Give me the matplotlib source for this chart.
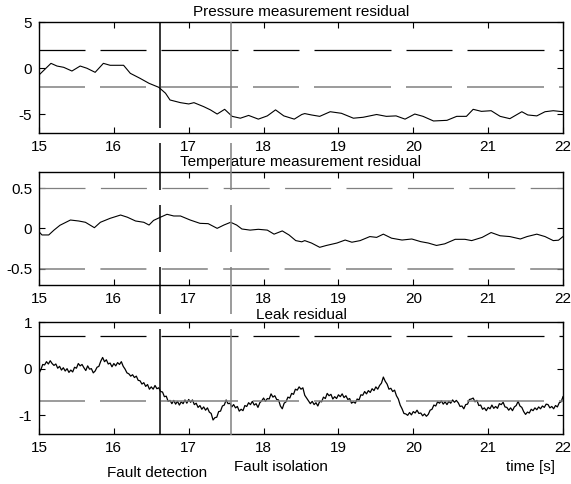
import numpy as np
import matplotlib
matplotlib.use('Agg')
import matplotlib.pyplot as plt
from matplotlib.lines import Line2D
from matplotlib.transforms import blended_transform_factory

plt.rcParams['font.family'] = ['Liberation Sans', 'DejaVu Sans']
plt.rcParams['font.size'] = 11
plt.rcParams['lines.scale_dashes'] = False

##############################################################################
# Data

# pressure measurement residual
p_t = [15.00, 15.16, 15.24, 15.33, 15.44, 15.55, 15.64, 15.75, 15.86, 15.95,
       16.13, 16.22, 16.35, 16.47, 16.60, 16.69, 16.75, 16.89, 17.00, 17.07,
       17.20, 17.29, 17.38, 17.48, 17.58, 17.69, 17.80, 17.93, 18.05, 18.16,
       18.27, 18.41, 18.51, 18.55, 18.64, 18.75, 18.89, 19.04, 19.20, 19.33,
       19.51, 19.64, 19.77, 19.89, 20.02, 20.13, 20.27, 20.45, 20.58, 20.71,
       20.80, 20.91, 21.04, 21.16, 21.29, 21.45, 21.53, 21.65, 21.76, 21.87,
       22.00]
p_v = [-0.73, 0.53, 0.24, 0.10, -0.30, 0.24, 0.00, -0.44, 0.53, 0.32,
       0.32, -0.55, -1.09, -1.63, -2.06, -2.70, -3.43, -3.72, -3.86, -3.72,
       -4.15, -4.50, -4.95, -4.44, -5.20, -5.40, -5.10, -5.50, -5.15, -4.50,
       -5.15, -5.50, -5.00, -4.90, -5.05, -5.20, -4.70, -4.87, -5.40, -5.30,
       -5.00, -5.20, -5.15, -5.50, -4.95, -5.20, -5.70, -5.63, -5.20, -5.20,
       -4.44, -4.66, -4.59, -5.20, -5.45, -4.70, -5.05, -5.15, -4.70, -4.59,
       -4.70]

# temperature measurement residual
t_t = [15.00, 15.04, 15.13, 15.20, 15.28, 15.42, 15.53, 15.62, 15.74, 15.82,
       15.95, 16.09, 16.18, 16.29, 16.40, 16.47, 16.53, 16.62, 16.71, 16.80,
       16.89, 17.02, 17.15, 17.26, 17.38, 17.47, 17.56, 17.64, 17.71, 17.82,
       17.93, 18.05, 18.14, 18.25, 18.34, 18.43, 18.51, 18.55, 18.64, 18.75,
       18.84, 18.98, 19.09, 19.18, 19.29, 19.42, 19.51, 19.60, 19.71, 19.85,
       19.98, 20.10, 20.20, 20.31, 20.42, 20.56, 20.69, 20.78, 20.92, 21.04,
       21.16, 21.29, 21.43, 21.52, 21.65, 21.76, 21.87, 21.94, 22.00]
t_v = [-0.04, -0.08, -0.08, -0.02, 0.04, 0.105, 0.093, 0.077, 0.01, 0.077,
       0.126, 0.167, 0.14, 0.093, 0.077, 0.043, 0.10, 0.139, 0.176, 0.155,
       0.155, 0.105, 0.064, 0.06, 0.002, 0.043, 0.077, 0.043, -0.006, -0.02,
       -0.01, -0.02, -0.07, -0.03, -0.08, -0.15, -0.165, -0.15, -0.18, -0.233,
       -0.21, -0.18, -0.143, -0.17, -0.15, -0.10, -0.11, -0.07, -0.12, -0.143,
       -0.13, -0.163, -0.18, -0.21, -0.19, -0.134, -0.134, -0.15, -0.11, -0.05,
       -0.09, -0.10, -0.13, -0.10, -0.07, -0.10, -0.15, -0.145, -0.10]

# leak residual, one value every 0.025 s from 15 to 22 s
leak_v = [
    -0.10, -0.02, 0.09, 0.08, 0.15, 0.10, 0.17, 0.11,
    0.07, 0.10, 0.01, 0.05, -0.03, 0.02, -0.05, 0.00,
    -0.08, -0.03, -0.07, 0.03, 0.01, 0.11, 0.06, 0.09,
    0.02, -0.04, 0.06, -0.01, 0.00, -0.09, -0.05, 0.03,
    0.05, 0.16, 0.24, 0.15, 0.19, 0.10, 0.12, 0.04,
    0.11, 0.06, 0.13, 0.09, 0.15, 0.05, -0.01, -0.09,
    -0.11, -0.16, -0.13, -0.19, -0.16, -0.25, -0.26, -0.33,
    -0.30, -0.38, -0.34, -0.44, -0.39, -0.44, -0.36, -0.43,
    -0.41, -0.49, -0.50, -0.60, -0.59, -0.70, -0.68, -0.75,
    -0.68, -0.76, -0.70, -0.78, -0.71, -0.75, -0.67, -0.74,
    -0.66, -0.72, -0.67, -0.77, -0.74, -0.83, -0.79, -0.87,
    -0.82, -0.89, -0.84, -0.93, -0.96, -1.10, -1.05, -1.04,
    -0.92, -0.91, -0.80, -0.78, -0.67, -0.75, -0.74, -0.82,
    -0.77, -0.84, -0.81, -0.91, -0.87, -0.90, -0.79, -0.81,
    -0.73, -0.77, -0.70, -0.78, -0.75, -0.83, -0.73, -0.69,
    -0.63, -0.70, -0.64, -0.65, -0.54, -0.61, -0.58, -0.66,
    -0.67, -0.80, -0.86, -0.74, -0.71, -0.61, -0.63, -0.53,
    -0.55, -0.44, -0.46, -0.39, -0.44, -0.41, -0.57, -0.63,
    -0.69, -0.75, -0.70, -0.77, -0.73, -0.80, -0.70, -0.71,
    -0.61, -0.64, -0.53, -0.58, -0.55, -0.65, -0.60, -0.64,
    -0.56, -0.60, -0.54, -0.62, -0.58, -0.66, -0.64, -0.74,
    -0.71, -0.74, -0.65, -0.67, -0.56, -0.57, -0.49, -0.54,
    -0.47, -0.51, -0.43, -0.47, -0.39, -0.44, -0.36, -0.31,
    -0.18, -0.27, -0.33, -0.44, -0.42, -0.49, -0.46, -0.58,
    -0.65, -0.78, -0.86, -0.96, -0.97, -1.00, -0.94, -0.99,
    -0.92, -0.95, -0.89, -0.96, -0.95, -1.01, -0.97, -1.02,
    -0.98, -0.89, -0.87, -0.78, -0.80, -0.71, -0.74, -0.69,
    -0.76, -0.71, -0.77, -0.70, -0.74, -0.67, -0.72, -0.68,
    -0.73, -0.81, -0.80, -0.86, -0.77, -0.76, -0.66, -0.65,
    -0.63, -0.71, -0.68, -0.79, -0.78, -0.87, -0.84, -0.90,
    -0.83, -0.86, -0.78, -0.85, -0.81, -0.85, -0.75, -0.77,
    -0.72, -0.82, -0.83, -0.89, -0.84, -0.90, -0.82, -0.79,
    -0.70, -0.80, -0.83, -0.92, -0.98, -0.93, -0.95, -0.87,
    -0.90, -0.84, -0.88, -0.82, -0.86, -0.80, -0.83, -0.76,
    -0.77, -0.84, -0.81, -0.86, -0.79, -0.82, -0.73, -0.71,
    -0.60]
leak_t = np.linspace(15, 22, len(leak_v))

thresholds = [2.0, 0.5, 0.7]       # +/- band per residual
t_detect = 16.62                   # fault detection instant
t_isolate = 17.56                  # fault isolation instant

titles = ['Pressure measurement residual',
          'Temperature measurement residual',
          'Leak residual']
ylims = [(-7, 5), (-0.7, 0.7), (-1.4, 1)]
yticks = [[-5, 0, 5], [-0.5, 0, 0.5], [-1, 0, 1]]
yticklabels = [['-5', '0', '5'], ['-0.5', '0', '0.5'], ['-1', '0', '1']]

##############################################################################
# Plot

W, H = 571, 484
fig = plt.figure(figsize=(W / 100, H / 100), dpi=100)

GRAY = '#808080'
px = 0.72  # points per pixel at 100 dpi
dash_a = (92 * px, (46 * px, 15 * px, 77 * px, 15 * px))
dash_b = (0, (46 * px, 15.4 * px))

# axes boxes in pixels: left, top, right, bottom
boxes = [(39, 22, 563, 133), (39, 172, 563, 285), (39, 322, 563, 434)]
title_y = [1.054, 1.053, 1.027]
series = [(p_t, p_v), (t_t, t_v), (leak_t, leak_v)]
trace_lw = [0.8, 0.8, 0.9]

axes = []
for i, (l, t, r, b) in enumerate(boxes):
    ax = fig.add_axes([l / W, 1 - b / H, (r - l) / W, (b - t) / H])
    x, y = series[i]
    ax.plot(x, y, color='k', lw=trace_lw[i])
    thr = thresholds[i]
    upper_col = GRAY if i == 1 else 'k'
    dashes = dash_b if i == 1 else dash_a
    ax.plot([15, 22], [thr, thr], color=upper_col, lw=0.9, linestyle=dashes)
    ax.plot([15, 22], [-thr, -thr], color=GRAY, lw=1.1, linestyle=dashes)

    ax.set_xlim(15, 22)
    ax.set_ylim(*ylims[i])
    ax.set_xticks(range(15, 23))
    ax.set_yticks(yticks[i])
    ax.set_yticklabels(yticklabels[i])
    ax.tick_params(direction='in', top=True, right=True, length=4.5,
                   width=0.8, pad=5, labelsize=11)
    for s in ax.spines.values():
        s.set_linewidth(1.0)
    ax.text(0.5, title_y[i], titles[i], transform=ax.transAxes,
            ha='center', va='baseline', fontsize=11)
    axes.append(ax)

# vertical markers for detection and isolation, spanning all panels
trans = blended_transform_factory(axes[2].transData, fig.transFigure)
vdash = (0, tuple(v * px for v in [106, 15, 47, 15, 47, 15, 47, 15, 107, 15]))
for tx, col in [(t_detect, 'k'), (t_isolate, GRAY)]:
    ln = Line2D([tx, tx], [1 - 22 / H, 1 - 435 / H], transform=trans,
                color=col, lw=1.1, clip_on=False, linestyle=vdash)
    fig.add_artist(ln)

fig.text(157 / W, 1 - 473 / H, 'Fault detection', ha='center', va='center')
fig.text(281 / W, 1 - 467 / H, 'Fault isolation', ha='center', va='center')
fig.text(530 / W, 1 - 467 / H, 'time [s]', ha='center', va='center')

fig.savefig('out.png', dpi=100)
